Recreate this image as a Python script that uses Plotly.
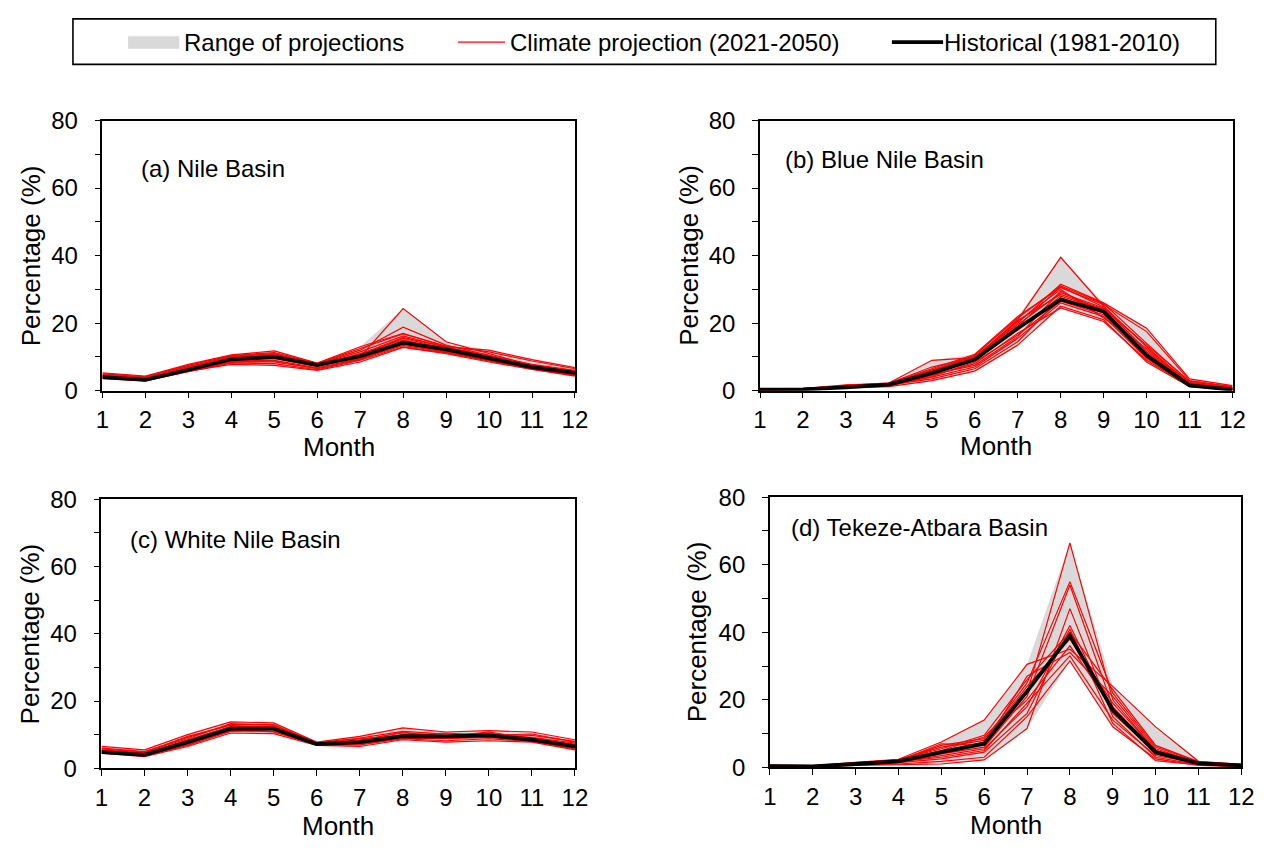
import numpy as np
import plotly.graph_objects as go

months = list(range(1, 13))

# ---- (a) Nile Basin ----
nile_hist = [4.0, 3.2, 6.2, 9.3, 10.0, 7.6, 10.2, 14.2, 12.2, 9.6, 7.0, 5.3]
nile_proj = [
    [4.2, 3.5, 6.5, 9.8, 10.5, 7.8, 10.0, 24.3, 14.5, 11.0, 7.5, 5.5],
    [4.5, 3.8, 7.0, 10.2, 11.0, 8.0, 12.0, 18.8, 13.5, 10.5, 7.8, 6.0],
    [5.3, 4.3, 7.8, 10.6, 11.8, 8.2, 13.0, 17.0, 13.0, 12.0, 9.2, 6.8],
    [3.6, 2.9, 5.6, 8.2, 8.0, 6.2, 9.0, 13.0, 11.2, 8.8, 6.4, 4.5],
    [3.8, 3.0, 5.8, 7.8, 7.5, 6.0, 8.5, 12.8, 11.0, 8.5, 6.3, 4.3],
    [4.0, 3.3, 6.0, 9.0, 9.5, 7.2, 10.5, 15.5, 12.5, 9.8, 7.2, 5.2],
    [4.8, 3.9, 7.2, 10.0, 10.8, 7.9, 11.5, 16.2, 12.8, 10.2, 7.6, 5.8],
    [4.3, 3.4, 6.3, 9.5, 10.2, 7.4, 9.8, 14.8, 12.0, 9.4, 7.0, 5.0],
    [3.9, 3.1, 5.9, 8.8, 9.0, 6.8, 9.5, 13.8, 11.5, 9.0, 6.8, 4.8],
    [5.0, 4.1, 7.5, 10.4, 11.3, 8.1, 12.5, 16.8, 13.2, 11.5, 8.8, 6.5],
    [4.6, 3.6, 6.8, 9.6, 10.0, 7.6, 11.0, 15.0, 12.4, 10.0, 7.4, 5.6],
    [4.1, 3.2, 6.1, 8.6, 8.5, 6.6, 9.2, 14.0, 11.8, 9.2, 6.7, 4.9],
    [4.4, 3.6, 6.6, 9.9, 10.6, 7.7, 10.8, 15.8, 12.9, 10.4, 7.3, 5.4],
    [3.7, 3.0, 5.7, 8.4, 8.8, 6.5, 9.3, 13.4, 11.4, 8.9, 6.6, 4.6],
]

# ---- (b) Blue Nile Basin ----
blue_hist = [0.3, 0.4, 1.0, 1.8, 5.2, 9.2, 18.5, 27.0, 23.5, 10.5, 1.6, 0.3]
blue_proj = [
    [0.3, 0.4, 1.2, 2.0, 5.5, 9.5, 21.0, 39.5, 25.0, 13.0, 2.0, 0.5],
    [0.4, 0.5, 1.5, 2.3, 9.0, 9.8, 20.0, 31.5, 26.0, 18.5, 3.5, 1.5],
    [0.2, 0.3, 0.8, 1.2, 3.0, 5.8, 13.5, 25.0, 21.0, 8.5, 1.2, 0.2],
    [0.5, 0.6, 1.7, 2.2, 6.5, 10.8, 22.0, 30.5, 25.5, 17.5, 3.0, 1.2],
    [0.3, 0.4, 1.0, 1.5, 4.0, 7.0, 15.5, 26.0, 22.0, 9.5, 1.5, 0.3],
    [0.4, 0.5, 1.3, 1.9, 5.8, 10.2, 19.5, 29.0, 24.5, 12.0, 2.2, 0.6],
    [0.3, 0.4, 0.9, 1.6, 4.5, 8.0, 17.0, 24.5, 20.5, 9.0, 1.4, 0.3],
    [0.6, 0.6, 1.4, 2.1, 6.0, 10.5, 21.5, 31.0, 25.8, 14.0, 2.6, 0.8],
    [0.2, 0.3, 1.1, 1.7, 3.5, 6.5, 14.5, 27.5, 23.0, 11.0, 1.8, 0.4],
    [0.3, 0.5, 1.2, 1.8, 5.0, 9.0, 18.0, 28.0, 24.0, 10.0, 1.7, 0.5],
    [0.4, 0.4, 1.0, 1.4, 4.2, 8.5, 16.5, 26.5, 22.5, 9.8, 1.3, 0.3],
    [0.5, 0.5, 1.6, 2.2, 7.0, 10.0, 20.5, 30.0, 21.5, 12.5, 2.4, 1.0],
    [0.4, 0.5, 1.3, 2.0, 6.2, 9.6, 19.0, 30.8, 24.8, 11.5, 2.1, 0.7],
    [0.3, 0.4, 1.1, 1.6, 4.8, 7.5, 16.0, 29.5, 23.2, 10.2, 1.6, 0.4],
    [0.5, 0.6, 1.5, 2.1, 5.6, 9.9, 20.8, 28.5, 24.2, 13.5, 2.8, 0.9],
]

# ---- (c) White Nile Basin ----
white_hist = [4.8, 4.0, 7.8, 11.8, 11.8, 7.2, 7.8, 9.6, 9.5, 9.8, 8.5, 6.5]
white_proj = [
    [6.5, 5.5, 10.0, 13.8, 13.5, 7.8, 9.5, 12.0, 10.8, 11.2, 10.8, 8.5],
    [4.5, 3.5, 6.5, 10.5, 10.3, 6.8, 6.5, 8.5, 7.8, 8.2, 7.8, 5.5],
    [5.5, 4.5, 8.5, 12.5, 12.5, 7.4, 8.5, 10.5, 9.8, 10.5, 9.0, 7.0],
    [5.0, 4.2, 7.2, 11.2, 11.0, 7.0, 7.2, 9.0, 8.8, 9.2, 8.2, 6.0],
    [6.0, 5.0, 9.2, 13.0, 13.0, 7.6, 9.0, 11.0, 10.2, 10.0, 9.8, 8.0],
    [4.8, 3.8, 7.0, 11.5, 10.8, 7.1, 7.5, 9.2, 9.0, 9.5, 8.5, 6.3],
    [5.2, 4.4, 8.0, 12.0, 12.2, 7.3, 8.0, 10.0, 9.5, 10.8, 8.8, 7.2],
    [5.8, 4.8, 8.8, 13.3, 12.8, 7.5, 8.8, 9.8, 10.5, 9.8, 10.2, 7.8],
    [4.6, 3.7, 6.8, 11.0, 11.5, 6.9, 7.0, 8.8, 8.2, 8.8, 8.0, 5.8],
    [5.3, 4.6, 9.5, 12.8, 11.8, 7.2, 8.2, 10.8, 9.2, 10.2, 9.2, 7.5],
]

# ---- (d) Tekeze-Atbara Basin ----
tekeze_hist = [0.4, 0.3, 1.0, 1.8, 4.5, 7.0, 22.5, 39.0, 17.0, 4.5, 1.2, 0.6]
tekeze_proj = [
    [0.4, 0.3, 1.2, 2.0, 5.0, 9.0, 22.0, 66.5, 20.0, 5.0, 1.5, 0.7],
    [0.5, 0.4, 1.3, 2.2, 6.0, 8.0, 25.0, 55.0, 22.0, 6.0, 1.6, 0.8],
    [0.3, 0.2, 0.8, 1.5, 4.0, 6.0, 21.0, 54.0, 18.0, 4.0, 1.2, 0.5],
    [0.6, 0.5, 1.5, 2.4, 7.5, 14.0, 30.5, 35.0, 24.0, 12.0, 1.8, 0.9],
    [0.3, 0.2, 0.6, 0.8, 1.0, 2.2, 11.5, 47.0, 15.0, 3.0, 0.8, 0.3],
    [0.4, 0.3, 1.0, 1.6, 3.5, 5.5, 18.0, 42.0, 16.0, 4.5, 1.0, 0.4],
    [0.5, 0.4, 1.2, 1.9, 7.0, 6.5, 27.0, 34.0, 21.0, 5.5, 1.4, 0.6],
    [0.3, 0.3, 0.9, 1.4, 2.5, 4.5, 16.0, 41.0, 13.0, 2.0, 0.7, 0.3],
    [0.4, 0.3, 1.1, 1.8, 4.8, 7.5, 24.0, 38.0, 19.0, 5.0, 1.3, 0.6],
    [0.3, 0.2, 0.7, 1.0, 1.8, 3.0, 15.0, 31.5, 12.0, 2.5, 0.6, 0.2],
    [0.5, 0.4, 1.4, 2.1, 6.5, 8.5, 20.0, 36.0, 17.5, 4.0, 1.5, 0.7],
    [0.4, 0.3, 1.0, 1.7, 3.0, 5.0, 19.0, 33.0, 14.0, 3.5, 1.1, 0.5],
    [0.7, 0.5, 1.3, 2.3, 5.5, 9.5, 26.0, 40.0, 23.0, 6.5, 1.7, 0.8],
]

panel_titles = ["(a) Nile Basin", "(b) Blue Nile Basin",
                "(c) White Nile Basin", "(d) Tekeze-Atbara Basin"]

legend_labels = ["Range of projections", "Climate projection (2021-2050)",
                 "Historical (1981-2010)"]

x_title = "Month"
y_title = "Percentage (%)"

W, H = 1277, 853
FONT = "Liberation Sans, Arial, sans-serif"
GREY = "#d9d9d9"
RED = "#ff0000"


def px_x(p):
    return p / W


def px_y(p):
    return 1 - p / H


# plot-area boxes in pixels: (left, right, top, bottom)
boxes = [(97, 577, 110, 389), (765, 1245, 110, 389),
         (96, 577, 501, 779), (775, 1254, 499, 778)]
# panel label anchor (left edge, vertical centre) in pixels
label_px = [(134, 160), (788, 150), (123, 543), (794, 530)]
# vertical centre of the "Month" title, horizontal centre of the y title
month_y = [447, 446, 839, 838]
ytitle_x = [24, 692, 23, 701]

panels = [(nile_hist, nile_proj), (blue_hist, blue_proj),
          (white_hist, white_proj), (tekeze_hist, tekeze_proj)]

fig = go.Figure()
annotations = []
shapes = []

for i, ((hist, proj), box) in enumerate(zip(panels, boxes)):
    n = i + 1
    xa = "x" if n == 1 else f"x{n}"
    ya = "y" if n == 1 else f"y{n}"
    arr = np.array(proj)
    upper = arr.max(axis=0)
    lower = arr.min(axis=0)

    # envelope of all projections
    fig.add_trace(go.Scatter(
        x=months + months[::-1],
        y=list(upper) + list(lower[::-1]),
        fill="toself", fillcolor=GREY, line=dict(width=0),
        mode="lines", hoverinfo="skip", showlegend=False,
        xaxis=xa, yaxis=ya))
    for row in proj:
        fig.add_trace(go.Scatter(
            x=months, y=row, mode="lines",
            line=dict(color=RED, width=1.2),
            showlegend=False, xaxis=xa, yaxis=ya))
    fig.add_trace(go.Scatter(
        x=months, y=hist, mode="lines",
        line=dict(color="black", width=3.8),
        showlegend=False, xaxis=xa, yaxis=ya))

    l, r, t, b = box
    axis_common = dict(
        showline=True, linecolor="black", linewidth=1.6, mirror=True,
        ticks="outside", ticklen=6, tickwidth=1.4, tickcolor="black",
        showgrid=False, zeroline=False,
        tickfont=dict(family=FONT, size=24, color="black"),
    )
    fig.layout[f"xaxis{n if n > 1 else ''}"] = dict(
        axis_common,
        domain=[px_x(l), px_x(r)], anchor=ya,
        range=[1, 12], tickmode="array", tickvals=months,
        ticklabelstandoff=1,
    )
    fig.layout[f"yaxis{n if n > 1 else ''}"] = dict(
        axis_common,
        domain=[px_y(b), px_y(t)], anchor=xa,
        range=[0, 80], tickmode="array", tickvals=[0, 20, 40, 60, 80],
        minor=dict(tickvals=[10, 30, 50, 70], ticks="outside", ticklen=6,
                   tickwidth=1.4, tickcolor="black"),
        ticklabelstandoff=12,
    )

    # axis titles
    annotations.append(dict(
        text=x_title, xref="paper", yref="paper",
        x=px_x((l + r) / 2), y=px_y(month_y[i]),
        xanchor="center", yanchor="middle", showarrow=False, borderpad=0,
        font=dict(family=FONT, size=26, color="black")))
    annotations.append(dict(
        text=y_title, xref="paper", yref="paper", textangle=-90,
        x=px_x(ytitle_x[i]), y=px_y((t + b) / 2),
        xanchor="center", yanchor="middle", showarrow=False,
        font=dict(family=FONT, size=26, color="black")))

    lx, ly = label_px[i]
    annotations.append(dict(
        text=panel_titles[i], xref="paper", yref="paper",
        x=px_x(lx), y=px_y(ly), xanchor="left", yanchor="middle",
        showarrow=False, font=dict(family=FONT, size=24, color="black")))

# legend frame and entries
shapes.append(dict(type="rect", xref="paper", yref="paper",
                   x0=px_x(67), x1=px_x(1228), y0=px_y(52), y1=px_y(5),
                   line=dict(color="black", width=1.6), fillcolor="white"))
shapes.append(dict(type="rect", xref="paper", yref="paper",
                   x0=px_x(123), x1=px_x(175), y0=px_y(36), y1=px_y(23),
                   line=dict(width=0), fillcolor=GREY))
shapes.append(dict(type="line", xref="paper", yref="paper",
                   x0=px_x(458), x1=px_x(506), y0=px_y(29), y1=px_y(29),
                   line=dict(color=RED, width=1.4)))
shapes.append(dict(type="line", xref="paper", yref="paper",
                   x0=px_x(899), x1=px_x(951), y0=px_y(29), y1=px_y(29),
                   line=dict(color="black", width=3.8)))
for txt, x0 in zip(legend_labels, [178, 509, 950]):
    annotations.append(dict(
        text=txt, xref="paper", yref="paper", x=px_x(x0), y=px_y(29),
        xanchor="left", yanchor="middle", showarrow=False,
        font=dict(family=FONT, size=24, color="black")))

fig.update_layout(
    width=W, height=H, margin=dict(l=0, r=0, t=0, b=0),
    paper_bgcolor="white", plot_bgcolor="white",
    annotations=annotations, shapes=shapes, showlegend=False,
    font=dict(family=FONT, color="black"),
)

fig.write_html("out.html")
